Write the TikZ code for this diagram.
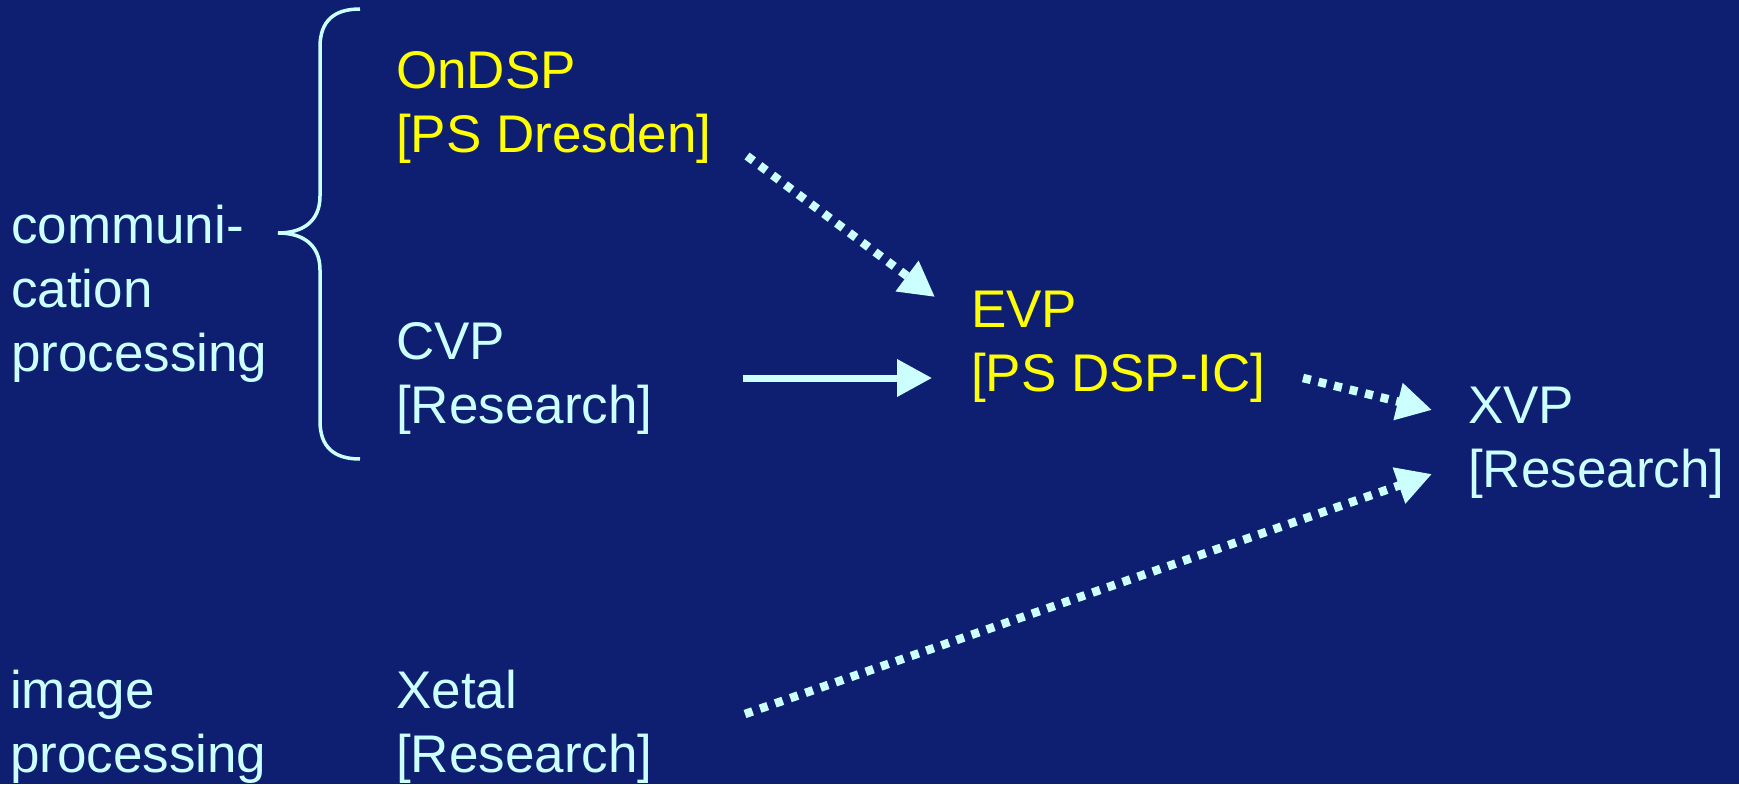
\documentclass[tikz,border=0pt]{standalone}
\usepackage{fontspec}
\setmainfont{Liberation Sans}
\usetikzlibrary{arrows.meta}
\definecolor{slidebg}{RGB}{14,31,114}
\definecolor{lightcyan}{RGB}{204,255,255}
\definecolor{slideyellow}{RGB}{255,255,0}

\begin{document}
\begin{tikzpicture}[x=1pt,y=-1pt,
  every node/.style={inner sep=0pt,anchor=base west,align=left,
    font=\fontsize{53}{64}\selectfont},
  main node/.style={text=lightcyan},
  new node/.style={text=slideyellow},
  solid arrow/.style={draw=lightcyan,line width=7pt,
    -{Triangle[length=35pt,width=36pt]}},
  dotted arrow/.style={solid arrow,line width=8.5pt,dash pattern=on 8pt off 8pt}]

  \useasboundingbox (0,0) rectangle (1739,784);
  \fill[slidebg] (0,0) rectangle (1739,784);

  % application areas (placed at the last baseline)
  \node[main node] (comm) at (11,371) {communi-\\cation\\processing};
  \node[main node] (img)  at (10,772) {image\\processing};

  % processors
  \node[new node]  (ondsp) at (396,152)  {OnDSP\\{}[PS Dresden]};
  \node[main node] (cvp)   at (396,423)  {CVP\\{}[Research]};
  \node[main node] (xetal) at (396,772)  {Xetal\\{}[Research]};
  \node[new node]  (evp)   at (971,391)  {EVP\\{}[PS DSP-IC]};
  \node[main node] (xvp)   at (1468,487) {XVP\\{}[Research]};

  % brace round the communication processors
  \draw[lightcyan,line width=3.5pt]
    (360,9) .. controls (334,9) and (320,21) .. (320,47) -- (320,196)
    .. controls (320,222) and (302,233) .. (278,233)
    .. controls (302,233) and (320,244) .. (320,270) -- (320,421)
    .. controls (320,447) and (334,459) .. (360,459);

  % arrow ends
  \coordinate (ondsp out) at (747,156);
  \coordinate (evp in)    at (935,297);
  \coordinate (evp out)   at (1303,378);
  \coordinate (xvp in1)   at (1432,410);
  \coordinate (xetal out) at (745,714);
  \coordinate (xvp in2)   at (1432,474);

  \draw[solid arrow,shorten <=90pt,shorten >=39pt] (cvp.east) -- (cvp.east -| evp.west);
  \draw[dotted arrow] (ondsp out) -- (evp in);
  \draw[dotted arrow] (evp out) -- (xvp in1);
  \draw[dotted arrow] (xetal out) -- (xvp in2);
\end{tikzpicture}
\end{document}
